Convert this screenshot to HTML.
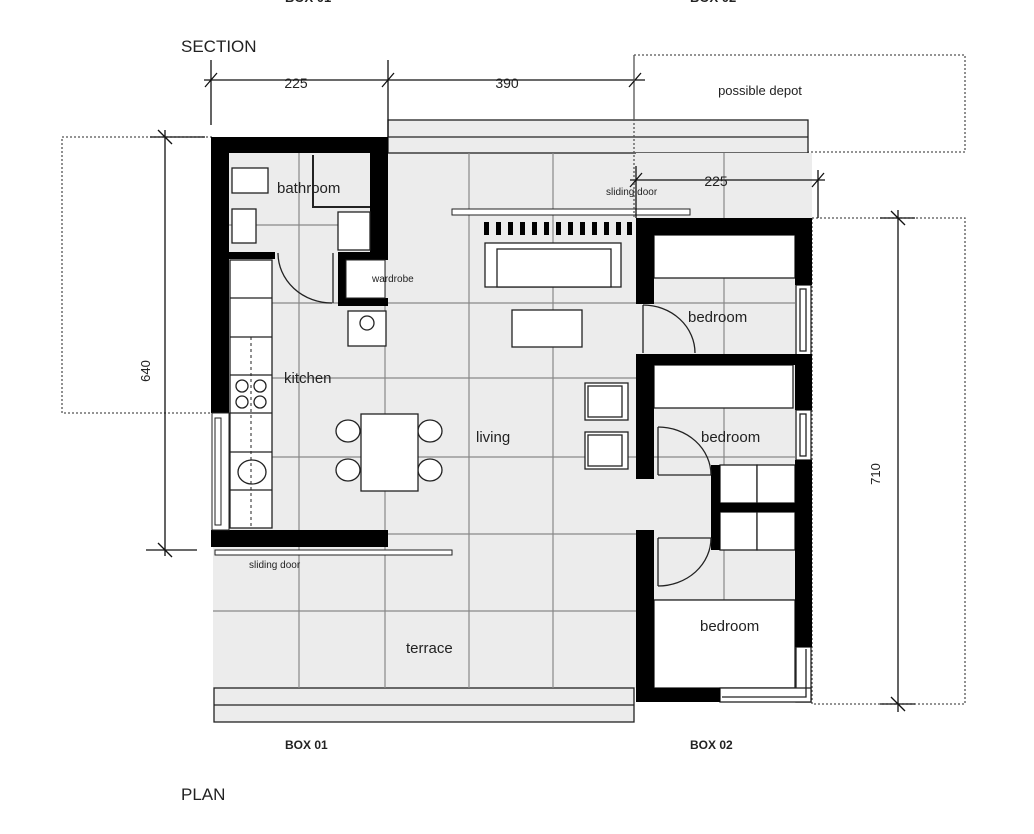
<!DOCTYPE html>
<html><head><meta charset="utf-8"><style>
html,body{margin:0;padding:0;background:#fff}
svg{display:block}
text{font-family:"Liberation Sans",sans-serif;fill:#222}
</style></head><body>
<svg width="1034" height="834" viewBox="0 0 1034 834" xmlns="http://www.w3.org/2000/svg">
<text x="285" y="2" font-size="13" font-weight="bold">BOX 01</text>
<text x="690" y="2" font-size="13" font-weight="bold">BOX 02</text>
<text x="181" y="52" font-size="17">SECTION</text>
<text x="181" y="800" font-size="17">PLAN</text>
<text x="285" y="749" font-size="12" font-weight="bold">BOX 01</text>
<text x="690" y="749" font-size="12" font-weight="bold">BOX 02</text>

<g fill="none" stroke="#555" stroke-width="1.3" stroke-dasharray="2,2">
<rect x="634" y="55" width="331" height="97"/>
<rect x="62" y="137" width="150" height="276"/>
<rect x="812" y="218" width="153" height="486"/>
<line x1="388" y1="221" x2="636" y2="221"/>
</g>
<text x="760" y="95" font-size="13" text-anchor="middle">possible depot</text>

<rect x="213" y="153" width="441" height="535" fill="#ececec"/>
<rect x="388" y="120" width="420" height="33" fill="#ececec" stroke="#222" stroke-width="1.3"/>
<line x1="388" y1="137" x2="808" y2="137" stroke="#222" stroke-width="1.3"/>
<rect x="636" y="153" width="176" height="65" fill="#ececec"/>
<rect x="214" y="688" width="420" height="34" fill="#ececec" stroke="#222" stroke-width="1.3"/>
<line x1="214" y1="705" x2="634" y2="705" stroke="#222" stroke-width="1.3"/>
<rect x="654" y="235" width="141" height="453" fill="#ececec"/>

<g stroke="#888" stroke-width="1.2">
<line x1="299" y1="153" x2="299" y2="688"/>
<line x1="385" y1="258" x2="385" y2="688"/>
<line x1="469" y1="153" x2="469" y2="688"/>
<line x1="553" y1="153" x2="553" y2="688"/>
<line x1="724" y1="153" x2="724" y2="218"/>
<line x1="724" y1="235" x2="724" y2="600"/>
<line x1="213" y1="225" x2="371" y2="225"/>
<line x1="272" y1="303" x2="654" y2="303"/>
<line x1="272" y1="378" x2="636" y2="378"/>
<line x1="272" y1="457" x2="654" y2="457"/>
<line x1="272" y1="534" x2="636" y2="534"/>
<line x1="213" y1="611" x2="636" y2="611"/>
<line x1="654" y1="303" x2="795" y2="303"/>
<line x1="654" y1="457" x2="795" y2="457"/>
<line x1="654" y1="600" x2="795" y2="600"/>
</g>

<g fill="#000">
<rect x="211" y="137" width="177" height="16"/>
<rect x="211" y="137" width="18" height="276"/>
<rect x="370" y="137" width="18" height="121"/>
<rect x="229" y="252" width="46" height="7"/>
<rect x="338" y="252" width="50" height="8"/>
<rect x="338" y="252" width="8" height="54"/>
<rect x="338" y="298" width="50" height="8"/>
<rect x="211" y="530" width="177" height="17"/>
</g>
<rect x="346" y="260" width="39" height="38" fill="#fff" stroke="#222"/>
<text x="372" y="282" font-size="10">wardrobe</text>
<rect x="212" y="413" width="17" height="117" fill="#fff" stroke="#222"/>
<rect x="215" y="418" width="6" height="107" fill="#fff" stroke="#222"/>
<rect x="215" y="550" width="237" height="5" fill="#fff" stroke="#222"/>
<text x="249" y="568" font-size="10">sliding door</text>

<g fill="#fff" stroke="#222" stroke-width="1.3">
<rect x="232" y="168" width="36" height="25"/>
<rect x="232" y="209" width="24" height="34"/>
<rect x="338" y="212" width="32" height="38"/>
</g>
<path d="M313 155 V207 H370" fill="none" stroke="#222" stroke-width="2"/>
<text x="277" y="193" font-size="15">bathroom</text>

<rect x="230" y="260" width="42" height="268" fill="#fff" stroke="#222" stroke-width="1.3"/>
<g stroke="#222" stroke-width="1.3">
<line x1="230" y1="298" x2="272" y2="298"/>
<line x1="230" y1="337" x2="272" y2="337"/>
<line x1="230" y1="375" x2="272" y2="375"/>
<line x1="230" y1="413" x2="272" y2="413"/>
<line x1="230" y1="452" x2="272" y2="452"/>
<line x1="230" y1="490" x2="272" y2="490"/>
</g>
<line x1="251" y1="337" x2="251" y2="528" stroke="#222" stroke-dasharray="3,3"/>
<g fill="none" stroke="#222" stroke-width="1.3">
<circle cx="242" cy="386" r="6"/><circle cx="260" cy="386" r="6"/>
<circle cx="242" cy="402" r="6"/><circle cx="260" cy="402" r="6"/>
<ellipse cx="252" cy="472" rx="14" ry="12"/>
</g>
<text x="284" y="383" font-size="15">kitchen</text>
<path d="M278 253 A54 50 0 0 0 332 303" fill="none" stroke="#222" stroke-width="1.3"/>
<line x1="333" y1="253" x2="333" y2="303" stroke="#222" stroke-width="1.3"/>
<rect x="348" y="311" width="38" height="35" fill="#fff" stroke="#222" stroke-width="1.3"/>
<circle cx="367" cy="323" r="7" fill="#fff" stroke="#222" stroke-width="1.3"/>

<rect x="452" y="209" width="238" height="6" fill="#fff" stroke="#222"/>
<text x="606" y="195" font-size="10">sliding door</text>
<g fill="#000">
<rect x="484" y="222" width="5" height="13"/><rect x="496" y="222" width="5" height="13"/>
<rect x="508" y="222" width="5" height="13"/><rect x="520" y="222" width="5" height="13"/>
<rect x="532" y="222" width="5" height="13"/><rect x="544" y="222" width="5" height="13"/>
<rect x="556" y="222" width="5" height="13"/><rect x="568" y="222" width="5" height="13"/>
<rect x="580" y="222" width="5" height="13"/><rect x="592" y="222" width="5" height="13"/>
<rect x="604" y="222" width="5" height="13"/><rect x="616" y="222" width="5" height="13"/>
<rect x="627" y="222" width="5" height="13"/>
</g>
<rect x="485" y="243" width="136" height="44" fill="#fff" stroke="#222" stroke-width="1.3"/>
<rect x="497" y="249" width="114" height="38" fill="#fff" stroke="#222" stroke-width="1.3"/>
<rect x="512" y="310" width="70" height="37" fill="#fff" stroke="#222" stroke-width="1.3"/>
<g fill="#fff" stroke="#222" stroke-width="1.3">
<ellipse cx="348" cy="431" rx="12" ry="11"/><ellipse cx="430" cy="431" rx="12" ry="11"/>
<ellipse cx="348" cy="470" rx="12" ry="11"/><ellipse cx="430" cy="470" rx="12" ry="11"/>
<rect x="361" y="414" width="57" height="77"/>
<rect x="585" y="383" width="43" height="37"/><rect x="588" y="386" width="34" height="31"/>
<rect x="585" y="432" width="43" height="37"/><rect x="588" y="435" width="34" height="31"/>
</g>
<text x="476" y="442" font-size="15">living</text>
<text x="406" y="653" font-size="15">terrace</text>

<g fill="#fff" stroke="#222" stroke-width="1.3">
<rect x="654" y="235" width="141" height="43"/>
<rect x="654" y="365" width="139" height="43"/>
<rect x="654" y="600" width="141" height="88"/>
<rect x="720" y="465" width="37" height="38"/><rect x="757" y="465" width="38" height="38"/>
<rect x="720" y="512" width="37" height="38"/><rect x="757" y="512" width="38" height="38"/>
<rect x="796" y="285" width="15" height="70"/><rect x="800" y="289" width="6" height="62"/>
<rect x="796" y="410" width="15" height="50"/><rect x="800" y="414" width="6" height="42"/>
<rect x="796" y="647" width="15" height="55"/>
<rect x="720" y="688" width="91" height="14"/>
</g>
<path d="M722 697 H806 V649" fill="none" stroke="#222" stroke-width="1.3"/>
<g fill="#000">
<rect x="636" y="218" width="176" height="17"/>
<rect x="636" y="218" width="18" height="86"/>
<rect x="636" y="354" width="18" height="125"/>
<rect x="636" y="530" width="18" height="172"/>
<rect x="636" y="354" width="176" height="11"/>
<rect x="795" y="218" width="17" height="67"/>
<rect x="795" y="354" width="17" height="56"/>
<rect x="795" y="460" width="17" height="187"/>
<rect x="636" y="688" width="84" height="14"/>
<rect x="711" y="465" width="9" height="85"/>
<rect x="711" y="503" width="84" height="9"/>
</g>
<g fill="none" stroke="#222" stroke-width="1.3">
<path d="M643 305 A52 48 0 0 1 695 353"/>
<line x1="643" y1="305" x2="643" y2="353"/>
<path d="M658 427 A53 48 0 0 1 711 475"/>
<line x1="658" y1="427" x2="658" y2="475"/>
<line x1="658" y1="475" x2="711" y2="475"/>
<path d="M711 538 A53 48 0 0 1 658 586"/>
<line x1="658" y1="538" x2="658" y2="586"/>
<line x1="658" y1="538" x2="711" y2="538"/>
</g>
<text x="688" y="322" font-size="15">bedroom</text>
<text x="701" y="442" font-size="15">bedroom</text>
<text x="700" y="631" font-size="15">bedroom</text>

<g stroke="#111" stroke-width="1.3" fill="none">
<line x1="204" y1="80" x2="645" y2="80"/>
<line x1="211" y1="60" x2="211" y2="125"/>
<line x1="388" y1="60" x2="388" y2="137"/>
<line x1="205" y1="87" x2="217" y2="73"/>
<line x1="382" y1="87" x2="394" y2="73"/>
<line x1="629" y1="87" x2="641" y2="73"/>
<line x1="630" y1="180" x2="825" y2="180"/>
<line x1="636" y1="166" x2="636" y2="218"/>
<line x1="818" y1="170" x2="818" y2="218"/>
<line x1="630" y1="187" x2="642" y2="173"/>
<line x1="812" y1="187" x2="824" y2="173"/>
<line x1="165" y1="130" x2="165" y2="556"/>
<line x1="150" y1="137" x2="205" y2="137"/>
<line x1="146" y1="550" x2="197" y2="550"/>
<line x1="158" y1="130" x2="172" y2="144"/>
<line x1="158" y1="543" x2="172" y2="557"/>
<line x1="898" y1="210" x2="898" y2="712"/>
<line x1="880" y1="218" x2="915" y2="218"/>
<line x1="880" y1="704" x2="915" y2="704"/>
<line x1="891" y1="211" x2="905" y2="225"/>
<line x1="891" y1="697" x2="905" y2="711"/>
</g>
<line x1="634" y1="55" x2="634" y2="218" stroke="#555" stroke-width="1.3" stroke-dasharray="2,2"/>
<text x="296" y="88" font-size="14" text-anchor="middle">225</text>
<text x="507" y="88" font-size="14" text-anchor="middle">390</text>
<text x="716" y="186" font-size="14" text-anchor="middle">225</text>
<text x="0" y="0" font-size="13" text-anchor="middle" transform="translate(150,371) rotate(-90)">640</text>
<text x="0" y="0" font-size="13" text-anchor="middle" transform="translate(880,474) rotate(-90)">710</text>
</svg>
</body></html>
